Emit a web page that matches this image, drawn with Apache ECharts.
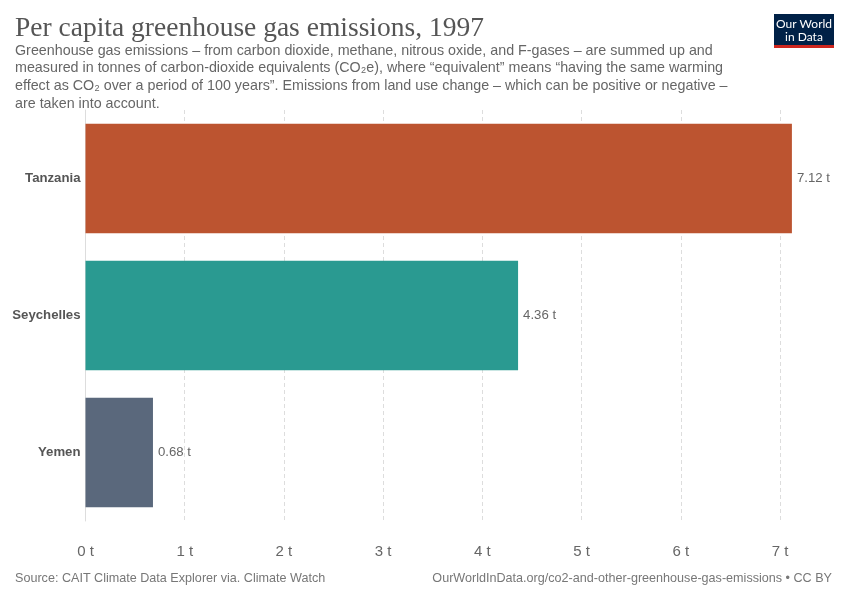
<!DOCTYPE html>
<html>
<head>
<meta charset="utf-8">
<script src="https://cdn.jsdelivr.net/npm/echarts@6/dist/echarts.min.js"></script>
<style>html,body{margin:0;padding:0;background:#fff}#c{width:850px;height:600px}</style>
</head>
<body>
<div id="c"></div>
<script>
const categories = ['Tanzania', 'Seychelles', 'Yemen'];
const values = [7.12, 4.36, 0.68];
const barColors = ['#BC5430', '#2A9A91', '#5A687C'];
const tickValues = [0, 1, 2, 3, 4, 5, 6, 7];

const chart = echarts.init(document.getElementById('c'), null, {renderer: 'canvas'});
const subtitle = [
  'Greenhouse gas emissions – from carbon dioxide, methane, nitrous oxide, and F-gases – are summed up and',
  'measured in tonnes of carbon-dioxide equivalents (CO₂e), where “equivalent” means “having the same warming',
  'effect as CO₂ over a period of 100 years”. Emissions from land use change – which can be positive or negative –',
  'are taken into account.'
];
const sans = '"Liberation Sans", Arial, sans-serif';
chart.setOption({
  animation: false,
  backgroundColor: '#fff',
  grid: {left: 85.5, right: 70, top: 110, bottom: 79, containLabel: false},
  xAxis: {
    type: 'value', min: tickValues[0], max: tickValues[tickValues.length - 1], interval: 1,
    axisLine: {show: false}, axisTick: {show: false},
    axisLabel: {formatter: v => v + ' t', color: '#666', fontSize: 15, fontFamily: sans, margin: 23},
    splitLine: {show: true, lineStyle: {color: '#ddd', type: [4, 3], width: 1}}
  },
  yAxis: {
    type: 'category', data: categories, inverse: true,
    axisLine: {show: true, lineStyle: {color: '#ddd'}}, axisTick: {show: false},
    axisLabel: {color: '#555', fontSize: 13.2, fontWeight: 'bold', fontFamily: sans, margin: 5}
  },
  series: [{
    type: 'bar', clip: false, barCategoryGap: '20%',
    data: values.map((v, i) => ({value: v, itemStyle: {color: barColors[i]}})),
    label: {show: true, position: 'right', distance: 5, formatter: p => p.value + ' t', color: '#666', fontSize: 13.2, fontFamily: sans}
  }],
  graphic: [
    {type: 'text', x: 15, y: 29, style: {text: 'Per capita greenhouse gas emissions, 1997', font: '27.5px "Liberation Serif", "DejaVu Serif", serif', fill: '#555', textVerticalAlign: 'middle'}},
    {type: 'text', left: 15, top: 42, style: {text: subtitle.join('\n'), font: '14.3px ' + sans, fill: '#666', lineHeight: 17.7}},
    {type: 'rect', shape: {x: 774, y: 14, width: 60, height: 31}, style: {fill: '#002147'}},
    {type: 'rect', shape: {x: 774, y: 45, width: 60, height: 3}, style: {fill: '#CE261E'}},
    {type: 'text', x: 804, y: 24, style: {text: 'Our World', font: '12px "Lato", sans-serif', fill: '#fff', textAlign: 'center', textVerticalAlign: 'middle'}},
    {type: 'text', x: 804, y: 37, style: {text: 'in Data', font: '12px "Lato", sans-serif', fill: '#fff', textAlign: 'center', textVerticalAlign: 'middle'}},
    {type: 'text', left: 15, top: 572, style: {text: 'Source: CAIT Climate Data Explorer via. Climate Watch', font: '12.6px ' + sans, fill: '#777'}},
    {type: 'text', right: 18, top: 572, style: {text: 'OurWorldInData.org/co2-and-other-greenhouse-gas-emissions • CC BY', font: '12.6px ' + sans, fill: '#777'}}
  ]
});
</script>
</body>
</html>
